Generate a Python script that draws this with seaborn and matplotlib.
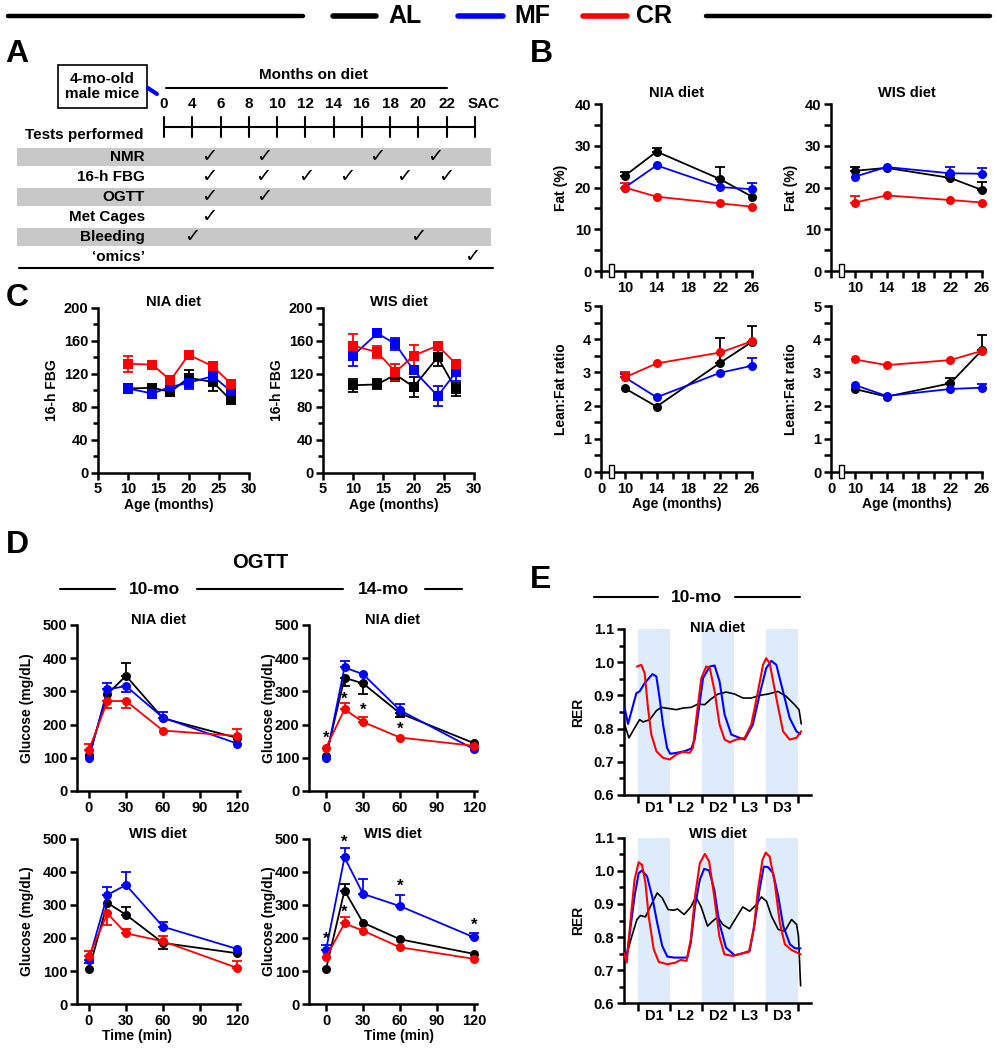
import numpy as np
import seaborn as sns
import matplotlib.pyplot as plt
from matplotlib.patches import Rectangle

sns.set_theme(style="ticks")
plt.rcParams['font.family'] = ['Liberation Sans', 'DejaVu Sans']
plt.rcParams['font.weight'] = 'bold'
plt.rcParams['axes.labelweight'] = 'bold'
plt.rcParams['axes.edgecolor'] = 'black'
plt.rcParams['xtick.color'] = 'black'
plt.rcParams['ytick.color'] = 'black'
plt.rcParams['text.color'] = 'black'
plt.rcParams['axes.labelcolor'] = 'black'

groups = ["AL", "MF", "CR"]
colors = {"AL": "#000000", "MF": "#0000ff", "CR": "#ff0000"}

# ---- panel A (study design) ----
months = ["0", "4", "6", "8", "10", "12", "14", "16", "18", "20", "22", "SAC"]
tests = ["NMR", "16-h FBG", "OGTT", "Met Cages", "Bleeding", "\u2018omics\u2019"]
shaded = [True, False, True, False, True, False]
checks = [[1.6, 3.55, 7.55, 9.6],
          [1.6, 3.5, 5.05, 6.5, 8.5, 10.0],
          [1.6, 3.55],
          [1.6],
          [1.0, 9.0],
          [10.9]]

# ---- panel B (NMR) ----
b_age = [10, 14, 22, 26]
fat_nia = {"AL": [22.8, 28.6, 22.0, 17.8], "MF": [20.0, 25.3, 20.1, 19.6], "CR": [20.0, 17.8, 16.2, 15.4]}
fat_nia_err = {"AL": [0.8, 0.8, 3.0, 0], "MF": [0, 0, 0, 1.4], "CR": [1.0, 0, 0, 0]}
fat_wis = {"AL": [24.0, 24.7, 22.3, 19.4], "MF": [22.6, 24.9, 23.4, 23.3], "CR": [16.4, 18.1, 17.0, 16.4]}
fat_wis_err = {"AL": [1.0, 0, 0.8, 2.0], "MF": [0, 0, 1.6, 1.3], "CR": [1.6, 0, 0, 0]}
lf_nia = {"AL": [2.52, 1.97, 3.29, 3.92], "MF": [2.85, 2.25, 2.99, 3.20], "CR": [2.85, 3.27, 3.60, 3.94]}
lf_nia_err = {"AL": [0, 0, 0.75, 0.48], "MF": [0.1, 0, 0, 0.22], "CR": [0.17, 0, 0, 0]}
lf_wis = {"AL": [2.50, 2.27, 2.67, 3.67], "MF": [2.62, 2.29, 2.50, 2.54], "CR": [3.39, 3.22, 3.37, 3.65]}
lf_wis_err = {"AL": [0, 0, 0.15, 0.45], "MF": [0, 0, 0, 0.11], "CR": [0, 0, 0, 0]}

# ---- panel C (16-h FBG) ----
c_age = [10, 14, 17, 20, 24, 27]
fbg_nia = {"AL": [102, 103, 98, 115, 110, 88], "MF": [102, 96, 104, 109, 117, 99], "CR": [132, 131, 112, 143, 129, 108]}
fbg_nia_sd = {"AL": [5, 4, 3, 10, 11, 3], "MF": [4, 6, 3, 8, 3, 4], "CR": [10, 3, 4, 4, 3, 3]}
fbg_wis = {"AL": [106, 107, 119, 104, 140, 101], "MF": [142, 169, 156, 124, 93, 122], "CR": [154, 146, 122, 142, 154, 132]}
fbg_wis_sd = {"AL": [8, 6, 8, 12, 11, 8], "MF": [13, 4, 7, 4, 12, 11], "CR": [14, 7, 10, 13, 3, 4]}

# ---- panel D (OGTT) ----
d_time = [0, 15, 30, 60, 120]
g_nia10 = {"AL": [108, 292, 347, 219, 160], "MF": [99, 306, 316, 221, 143], "CR": [124, 271, 271, 182, 166]}
g_nia10_err = {"AL": [0, 0, 38, 0, 0], "MF": [0, 20, -18, 17, 0], "CR": [17, -22, -22, 0, 21]}
g_nia14 = {"AL": [104, 341, 324, 234, 144], "MF": [98, 372, 352, 243, 126], "CR": [130, 246, 208, 161, 136]}
g_nia14_err = {"AL": [0, -26, -33, -10, 0], "MF": [0, 21, 0, 20, 0], "CR": [0, 18, 16, 0, 0]}
g_wis10 = {"AL": [105, 306, 270, 185, 154], "MF": [135, 330, 360, 234, 167], "CR": [146, 274, 214, 190, 110]}
g_wis10_err = {"AL": [0, 0, 22, -18, 0], "MF": [-10, 23, 38, 15, 0], "CR": [16, -35, 14, 17, 22]}
g_wis14 = {"AL": [106, 343, 246, 196, 152], "MF": [164, 443, 333, 296, 202], "CR": [142, 244, 222, 172, 137]}
g_wis14_err = {"AL": [0, 20, 0, 0, 0], "MF": [14, 28, 44, 35, 14], "CR": [0, 20, 0, 0, 0]}
star_nia14 = ([0, 15, 30, 60], [160, 277, 244, 187])
star_wis14 = ([0, 15, 15, 60, 120], [196, 279, 490, 355, 239])

# ---- panel E (RER, hours from first dark phase) ----
dark_start = [0, 24, 48]
phase_labels = ["D1", "L2", "D2", "L3", "D3"]
rer_nia = {
    "AL": ([-5, -3.4, -1.25, 0.6, 1.9, 4.4, 6.9, 8.75, 11.9, 14.4, 16.9, 20, 22.5, 25, 27.5, 30, 33.1, 36.25,
            39.4, 42.5, 45.6, 48.75, 52.5, 55.6, 58.75, 60.4, 61.25],
           [0.812, 0.772, 0.802, 0.827, 0.82, 0.827, 0.854, 0.864, 0.86, 0.857, 0.862, 0.864, 0.874, 0.872, 0.89,
            0.904, 0.91, 0.904, 0.892, 0.892, 0.9, 0.904, 0.912, 0.897, 0.872, 0.857, 0.814]),
    "MF": ([-5, -3.75, -0.6, 0.6, 2.5, 5.4, 6.9, 8.1, 9.4, 10.9, 12.1, 14.4, 17.5, 20, 21.25, 22.9, 24.4, 26.9,
            28.75, 30.6, 32.5, 35, 37.5, 40, 43.1, 45.6, 48.1, 50, 51.9, 54.4, 56.9, 59.4, 60.9],
           [0.862, 0.814, 0.907, 0.912, 0.937, 0.964, 0.957, 0.892, 0.812, 0.742, 0.724, 0.727, 0.732, 0.74,
            0.767, 0.862, 0.952, 0.987, 0.99, 0.942, 0.842, 0.782, 0.774, 0.767, 0.812, 0.902, 0.982, 1.004,
            0.992, 0.912, 0.832, 0.792, 0.784]),
    "CR": ([-0.4, 1.25, 2.5, 3.75, 5, 6.9, 9.4, 11.9, 14.4, 16.9, 19.4, 20.6, 21.9, 23.75, 25.6, 26.9, 28.75,
            30.6, 32.5, 34.4, 36.9, 40, 42.5, 45, 46.9, 48.1, 49.4, 51.9, 54.4, 56.9, 59.4, 61.25],
           [0.987, 0.992, 0.967, 0.862, 0.782, 0.732, 0.712, 0.707, 0.722, 0.73, 0.727, 0.742, 0.832, 0.952,
            0.987, 0.984, 0.912, 0.812, 0.767, 0.759, 0.767, 0.772, 0.812, 0.912, 0.992, 1.012, 0.997, 0.892,
            0.792, 0.767, 0.772, 0.792]),
}
rer_wis = {
    "AL": ([-5.4, -4.2, -2.3, -0.4, 0.9, 2.8, 4.7, 7.2, 9.1, 11.3, 13.5, 14.8, 17.3, 19.8, 21.7, 23.6, 26.1, 28,
            29.9, 31.8, 34.3, 36.8, 39.3, 41.9, 44.4, 46.3, 48.2, 50.1, 52.6, 55.1, 57.6, 59.5, 60.2, 61],
           [0.758, 0.748, 0.803, 0.853, 0.865, 0.861, 0.893, 0.933, 0.918, 0.883, 0.881, 0.885, 0.868, 0.891,
            0.921, 0.893, 0.833, 0.848, 0.861, 0.838, 0.825, 0.858, 0.891, 0.878, 0.898, 0.921, 0.908, 0.863,
            0.823, 0.818, 0.853, 0.838, 0.803, 0.653]),
    "MF": ([-5.4, -4.2, -2.9, -1.3, 0.25, 1.5, 3.4, 5.3, 7.2, 9.1, 11, 13.5, 16, 18.5, 19.8, 21.4, 23.2, 24.8,
            26.7, 28.6, 30.5, 33, 36.2, 39.3, 41.9, 43.8, 45.6, 47.2, 48.8, 50.7, 52.6, 54.5, 57, 58.9, 61],
           [0.753, 0.743, 0.823, 0.923, 0.993, 1.001, 0.983, 0.923, 0.843, 0.773, 0.741, 0.738, 0.738, 0.738,
            0.783, 0.893, 0.973, 1.006, 1.001, 0.943, 0.843, 0.768, 0.745, 0.751, 0.758, 0.843, 0.943, 1.013,
            1.011, 0.993, 0.923, 0.833, 0.778, 0.766, 0.766]),
    "CR": ([-5.4, -4.2, -2.9, -1.3, 0.25, 1.5, 2.8, 4, 5.9, 7.8, 11, 14.1, 16, 18.2, 19.8, 21.4, 23.2, 25.1,
            26.7, 28.6, 30.5, 32.4, 35.6, 39.3, 41.6, 43.4, 45, 46.7, 47.9, 49.4, 51.3, 53.2, 55.1, 57.6, 61],
           [0.753, 0.723, 0.843, 0.973, 1.026, 1.018, 0.963, 0.863, 0.763, 0.725, 0.718, 0.723, 0.731, 0.728,
            0.793, 0.923, 1.023, 1.051, 1.028, 0.923, 0.803, 0.748, 0.743, 0.751, 0.755, 0.823, 0.943, 1.033,
            1.055, 1.043, 0.963, 0.843, 0.778, 0.761, 0.748]),
}

W, H = 997, 1050
fig = plt.figure(figsize=(W / 100, H / 100), dpi=100)


def box(x0, y0, x1, y1):
    ax = fig.add_axes([x0 / W, 1 - y1 / H, (x1 - x0) / W, (y1 - y0) / H])
    ax.set_facecolor('none')
    ax.pw, ax.ph = x1 - x0, y1 - y0
    return ax


def style(ax, title, title_dy, ylabel, ylab_x, xlabel=None, xlab_x=0.5, xlab_y=25):
    sns.despine(ax=ax)
    for s in ["left", "bottom"]:
        ax.spines[s].set_linewidth(1.8)
    ax.tick_params(which="major", length=5, width=1.8, labelsize=10.5, pad=2)
    ax.tick_params(which="minor", length=3.5, width=1.8)
    ax.grid(False)
    ax.text(0.5, 1 + title_dy / ax.ph, title, transform=ax.transAxes, ha="center", va="center",
            fontsize=10.5, fontweight="bold")
    ax.set_ylabel(ylabel, fontsize=10)
    ax.yaxis.set_label_coords(-ylab_x / ax.pw, 0.5)
    if xlabel:
        ax.set_xlabel(xlabel, fontsize=10)
        ax.xaxis.set_label_coords(xlab_x, -xlab_y / ax.ph)
    else:
        ax.set_xlabel("")


def series(ax, x, vals, errs, marker="o", symmetric=False):
    for g in groups:
        c = colors[g]
        sns.lineplot(x=x, y=vals[g], ax=ax, color=c, marker=marker, markersize=6.5, markeredgewidth=0,
                     linewidth=1.3, clip_on=False, zorder=3, legend=False)
        xs = [xi for xi, e in zip(x, errs[g]) if e != 0]
        ys = [yi for yi, e in zip(vals[g], errs[g]) if e != 0]
        es = [e for e in errs[g] if e != 0]
        if not xs:
            continue
        if symmetric:
            yerr = [abs(e) for e in es]
        else:
            yerr = [[-e if e < 0 else 0 for e in es], [e if e > 0 else 0 for e in es]]
        ax.errorbar(xs, ys, yerr=yerr, fmt="none", ecolor=c, elinewidth=1.3, capsize=3.5, capthick=1.3,
                    clip_on=False, zorder=2)


# ---- overlay for banner and panel letters ----
ov = fig.add_axes([0, 0, 1, 1])
ov.set_xlim(0, W)
ov.set_ylim(H, 0)
ov.axis("off")
ov.plot([8, 303], [16, 16], color="black", lw=3.2)
ov.plot([706, 990], [16, 16], color="black", lw=3.2)
for g, (s0, s1, tx) in zip(groups, [(333, 376, 405), (458, 503, 532), (583, 627, 654)]):
    ov.plot([s0, s1], [16, 16], color=colors[g], lw=4)
    ov.text(tx, 16, g, ha="center", va="center", fontsize=18, fontweight="bold")
for lab, (lx, ly) in zip("ABCDE", [(17, 54), (541, 54), (17, 298), (17, 545), (541, 580)]):
    ov.text(lx, ly, lab, ha="center", va="center", fontsize=23, fontweight="bold")
ov.text(260, 563, "OGTT", ha="center", va="center", fontsize=14.5, fontweight="bold")
ov.text(154, 589, "10-mo", ha="center", va="center", fontsize=12.5, fontweight="bold")
ov.text(383, 589, "14-mo", ha="center", va="center", fontsize=12.5, fontweight="bold")
for a, b in [(60, 115), (197, 343), (425, 462)]:
    ov.plot([a, b], [589, 589], color="black", lw=1.5)
ov.text(696, 597, "10-mo", ha="center", va="center", fontsize=12.5, fontweight="bold")
for a, b in [(594, 658), (735, 800)]:
    ov.plot([a, b], [597, 597], color="black", lw=1.5)

# ---- panel A ----
axA = box(0, 40, 500, 280)
axA.set_xlim(-5.80, 11.885)
axA.set_ylim(6.15, -5.85)
axA.axis("off")
axA.add_patch(Rectangle((-3.76, -4.585), 3.17, 2.12, facecolor="white", edgecolor="black", lw=1.2))
axA.text(-2.18, -3.53, "4-mo-old\nmale mice", ha="center", va="center", fontsize=11, fontweight="bold",
         linespacing=1.05)
axA.plot([-0.57, -0.25], [-3.45, -3.15], color="blue", lw=3, solid_capstyle="round")
axA.text(5.27, -4.1, "Months on diet", ha="center", va="center", fontsize=11, fontweight="bold")
axA.plot([0.07, 10.0], [-3.47, -3.47], color="black", lw=1.5)
axA.plot([0, len(months) - 1], [-1.5, -1.5], color="black", lw=1.5)
for i, m in enumerate(months):
    axA.plot([i, i], [-2.0, -0.99], color="black", lw=1.5)
    axA.text(i + (0.3 if m == "SAC" else 0), -2.65, m, ha="center", va="center", fontsize=11, fontweight="bold")
axA.text(-0.74, -1.1, "Tests performed", ha="right", va="center", fontsize=11, fontweight="bold")
for r, (t, sh, ck) in enumerate(zip(tests, shaded, checks)):
    if sh:
        axA.add_patch(Rectangle((-5.2, r - 0.47), 16.77, 0.93, facecolor="#c8c8c8", edgecolor="none"))
    axA.text(-0.67, r, t, ha="right", va="center", fontsize=11, fontweight="bold")
    for cx in ck:
        axA.text(cx, r, "\u2713", ha="center", va="center", fontsize=14, fontweight="bold",
                 family="DejaVu Sans")
axA.plot([-5.13, 11.64], [5.565, 5.565], color="black", lw=1.5)

# ---- panel B ----
b_sets = [
    ((601, 104, 752, 271), fat_nia, fat_nia_err, "NIA diet", "Fat (%)", False),
    ((831, 104, 982, 271), fat_wis, fat_wis_err, "WIS diet", "Fat (%)", False),
    ((601, 306, 752, 472), lf_nia, lf_nia_err, None, "Lean:Fat ratio", True),
    ((831, 306, 982, 472), lf_wis, lf_wis_err, None, "Lean:Fat ratio", True),
]
for (x0, y0, x1, y1), vals, errs, title, ylab, bottom in b_sets:
    ax = box(x0, y0, x1, y1)
    series(ax, b_age, vals, errs)
    ax.set_xlim(7, 26)
    ax.set_xticks([7, 10, 14, 18, 22, 26], labels=["0" if bottom else "", "10", "14", "18", "22", "26"])
    ax.set_xticks([12, 16, 20, 24], minor=True)
    if bottom:
        ax.set_ylim(0, 5)
        ax.set_yticks([0, 1, 2, 3, 4, 5])
        ax.set_yticks(np.arange(0.5, 5, 1), minor=True)
    else:
        ax.set_ylim(0, 40)
        ax.set_yticks([0, 10, 20, 30, 40])
        ax.set_yticks([5, 15, 25, 35], minor=True)
    style(ax, title or "", 11 if title else 0, ylab, 33, "Age (months)" if bottom else None)
    ax.tick_params(which="minor", length=5)
    ax.add_patch(Rectangle((8.05, -6 / ax.ph), 0.55, 13 / ax.ph, transform=ax.get_xaxis_transform(),
                           facecolor="white", edgecolor="black", lw=1, clip_on=False, zorder=5))

# ---- panel C ----
for (x0, x1), vals, sds, title, ylx in [((98, 249), fbg_nia, fbg_nia_sd, "NIA diet", 39),
                                        ((323, 474), fbg_wis, fbg_wis_sd, "WIS diet", 39)]:
    ax = box(x0, 307.7, x1, 472.7)
    series(ax, c_age, vals, sds, marker="s", symmetric=True)
    ax.set_xlim(5, 30)
    ax.set_xticks([5, 10, 15, 20, 25, 30])
    ax.set_ylim(0, 200)
    ax.set_yticks([0, 40, 80, 120, 160, 200])
    ax.set_yticks(np.arange(20, 200, 40), minor=True)
    style(ax, title, 6, "16-h FBG", ylx, "Age (months)", 0.47)

# ---- panel D ----
d_sets = [
    ((77, 625, 239.5, 791), -9.7, g_nia10, g_nia10_err, "NIA diet", None, 43, False, 0.5),
    ((309, 625, 476.5, 791), -13.8, g_nia14, g_nia14_err, "NIA diet", star_nia14, 33, False, 0.5),
    ((77, 838.5, 239.5, 1004.3), -9.7, g_wis10, g_wis10_err, "WIS diet", None, 43, True, 0.37),
    ((309, 838.5, 476.5, 1004.3), -13.8, g_wis14, g_wis14_err, "WIS diet", star_wis14, 33, True, 0.54),
]
for (x0, y0, x1, y1), xl, vals, errs, title, stars, ylx, bottom, xlx in d_sets:
    ax = box(x0, y0, x1, y1)
    series(ax, d_time, vals, errs)
    ax.set_xlim(xl, 122)
    ax.set_xticks([0, 30, 60, 90, 120])
    ax.set_ylim(0, 500)
    ax.set_yticks([0, 100, 200, 300, 400, 500])
    if stars:
        for sx, sy in zip(*stars):
            ax.text(sx, sy, "*", ha="center", va="center", fontsize=12, fontweight="bold", clip_on=False)
    style(ax, title, 5, "Glucose (mg/dL)", ylx, "Time (min)" if bottom else None, xlx, 25)

# ---- panel E ----
for (y0, y1), rer, title, tdy in [((629, 795), rer_nia, "NIA diet", 1), ((837.7, 1003.3), rer_wis, "WIS diet", 4)]:
    ax = box(624, y0, 811, y1)
    for ds in dark_start:
        ax.axvspan(ds, ds + 12, ymin=0, ymax=1, color="#ddebfa", lw=0, zorder=0)
    for g in groups:
        hrs, v = rer[g]
        sns.lineplot(x=hrs, y=v, ax=ax, color=colors[g], sort=False, linewidth=1.5 if g != "AL" else 1.2,
                     zorder=3, legend=False)
    ax.set_xlim(-5.25, 64.9)
    ax.set_ylim(0.6, 1.1)
    ax.set_xticks([0, 12, 24, 36, 48, 60], labels=[""] * 6)
    ax.set_xticks([6, 18, 30, 42, 54], labels=phase_labels, minor=True)
    ax.set_yticks([0.6, 0.7, 0.8, 0.9, 1.0, 1.1], labels=["0.6", "0.7", "0.8", "0.9", "1.0", "1.1"])
    ax.set_yticks(np.arange(0.65, 1.1, 0.1), minor=True)
    style(ax, title, tdy, "RER", 39)
    ax.tick_params(axis="x", which="minor", length=0, labelsize=10.5, pad=4)
    ax.tick_params(axis="x", which="major", length=6)

fig.savefig("out.png", dpi=100)
